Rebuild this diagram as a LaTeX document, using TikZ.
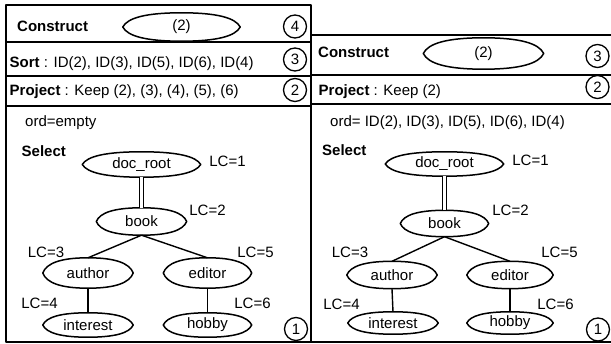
\documentclass[tikz,border=0pt]{standalone}
\usepackage{fontspec}
\setmainfont{Liberation Sans}
\usetikzlibrary{shapes.geometric,calc}

\tikzset{
  frame/.style={draw, line width=1.2pt},
  lensline/.style={line width=1.5pt},
  % ellipse-like outline with slightly pointed ends
  lens/.style={ellipse, inner sep=0pt,
    append after command={\pgfextra{%
      \draw[lensline] let \p1=(\tikzlastnode.west), \p2=(\tikzlastnode.north),
        \p3=(\tikzlastnode.east), \p4=(\tikzlastnode.south),
        \n1={\x2-\x1}, \n2={\y2-\y1} in
        (\p1) .. controls ({\x1+0.08*\n1},{\y1+0.65*\n2}) and ({\x2-0.6*\n1},{\y2}) .. (\p2)
              .. controls ({\x2+0.6*\n1},{\y2}) and ({\x3-0.08*\n1},{\y3+0.65*\n2}) .. (\p3)
              .. controls ({\x3-0.08*\n1},{\y3-0.65*\n2}) and ({\x4+0.6*\n1},{\y4}) .. (\p4)
              .. controls ({\x4-0.6*\n1},{\y4}) and ({\x1+0.08*\n1},{\y1-0.65*\n2}) .. (\p1) -- cycle;
    }}},
  num/.style={circle, draw, line width=1.3pt, minimum size=23pt, inner sep=0pt},
  lbl/.style={anchor=base west, inner sep=0pt},
  lc/.style={anchor=base, inner sep=0pt},
  edge/.style={line width=1.4pt},
  dbl/.style={double, double distance=2.2pt, line width=1.2pt},
}

\begin{document}
\begin{tikzpicture}[x=1pt, y=-1pt, font=\fontsize{15}{18}\selectfont, line join=round]
\useasboundingbox (0,0) rectangle (611,344);

% panel frames and row separators
\draw[frame] (6,5) rectangle (311,342);
\draw[frame] (311,35) rectangle (614,342);
\draw[frame] (6,42) -- (311,42);
\draw[frame] (6,76) -- (311,76);
\draw[frame] (6,106) -- (311,106);
\draw[frame] (311,75) -- (614,75);
\draw[frame] (311,104) -- (614,104);

% ---------- left plan ----------
\node[lbl] (lcons) at (17,31.5) {\textbf{Construct}};
\node[lens, minimum width=117, minimum height=28] (lcell) at (181.5,27) {(2)};
\node[num] (l4) at (295,26.5) {4};

\node[lbl] (lsort) at (9.5,67.5) {\textbf{Sort} : ID(2), ID(3), ID(5), ID(6), ID(4)};
\node[num] (l3) at (295,59.5) {3};

\node[lbl] (lproj) at (9.5,96) {\textbf{Project} : Keep (2), (3), (4), (5), (6)};
\node[num] (l2) at (295,90) {2};

\node[lbl] (lord) at (25,127) {ord=empty};
\node[lbl] (lsel) at (21.5,156.5) {\textbf{Select}};

\node[lens, minimum width=118, minimum height=25] (lroot) at (141.5,164.5) {doc\_root};
\node[lens, minimum width=90, minimum height=27] (lbook) at (141.5,221.5) {book};
\node[lens, minimum width=90, minimum height=30] (lauth) at (88,273) {author};
\node[lens, minimum width=88, minimum height=30] (ledit) at (207.5,273) {editor};
\node[lens, minimum width=90, minimum height=24] (lint) at (88,325) {interest};
\node[lens, minimum width=88, minimum height=24] (lhob) at (207.5,325) {hobby};

\node[lc] (llc1) at (227.5,167) {LC=1};
\node[lc] (llc2) at (207.5,216) {LC=2};
\node[lc] (llc3) at (46,258) {LC=3};
\node[lc] (llc5) at (255.5,258) {LC=5};
\node[lc] (llc4) at (39.5,309) {LC=4};
\node[lc] (llc6) at (252.5,309) {LC=6};

\draw[dbl] (lroot.south) -- (lbook.north);
\draw[edge] (lbook.south) -- (lauth.north);
\draw[edge] (lbook.south) -- (ledit.north);
\draw[edge] (lauth.south) -- (lint.north);
\draw[edge] (ledit.south) -- (lhob.north);

\node[num] (l1) at (296,329) {1};

% ---------- right plan ----------
\node[lbl] (rcons) at (318,58) {\textbf{Construct}};
\node[lens, minimum width=120, minimum height=31] (rcell) at (483.5,53.5) {(2)};
\node[num] (r3) at (597.5,56) {3};

\node[lbl] (rproj) at (318.5,95.5) {\textbf{Project} : Keep (2)};
\node[num] (r2) at (597.5,87) {2};

\node[lbl] (rord) at (330,127) {ord= ID(2), ID(3), ID(5), ID(6), ID(4)};
\node[lbl] (rsel) at (322,156) {\textbf{Select}};

\node[lens, minimum width=118, minimum height=24] (rroot) at (444.5,164) {doc\_root};
\node[lens, minimum width=88, minimum height=26] (rbook) at (444.5,223.5) {book};
\node[lens, minimum width=90, minimum height=27] (rauth) at (392,275) {author};
\node[lens, minimum width=86, minimum height=27] (redit) at (510,275) {editor};
\node[lens, minimum width=90, minimum height=22] (rint) at (393,323) {interest};
\node[lens, minimum width=86, minimum height=22] (rhob) at (510,323) {hobby};

\node[lc] (rlc1) at (530.5,166) {LC=1};
\node[lc] (rlc2) at (510.5,216) {LC=2};
\node[lc] (rlc3) at (350,258) {LC=3};
\node[lc] (rlc5) at (559.5,258) {LC=5};
\node[lc] (rlc4) at (341.5,310) {LC=4};
\node[lc] (rlc6) at (555.5,310) {LC=6};

\draw[dbl] (rroot.south) -- (rbook.north);
\draw[edge] (rbook.south) -- (rauth.north);
\draw[edge] (rbook.south) -- (redit.north);
\draw[edge] (rauth.south) -- (rint.north);
\draw[edge] (redit.south) -- (rhob.north);

\node[num] (r1) at (598,329.5) {1};
\end{tikzpicture}
\end{document}
